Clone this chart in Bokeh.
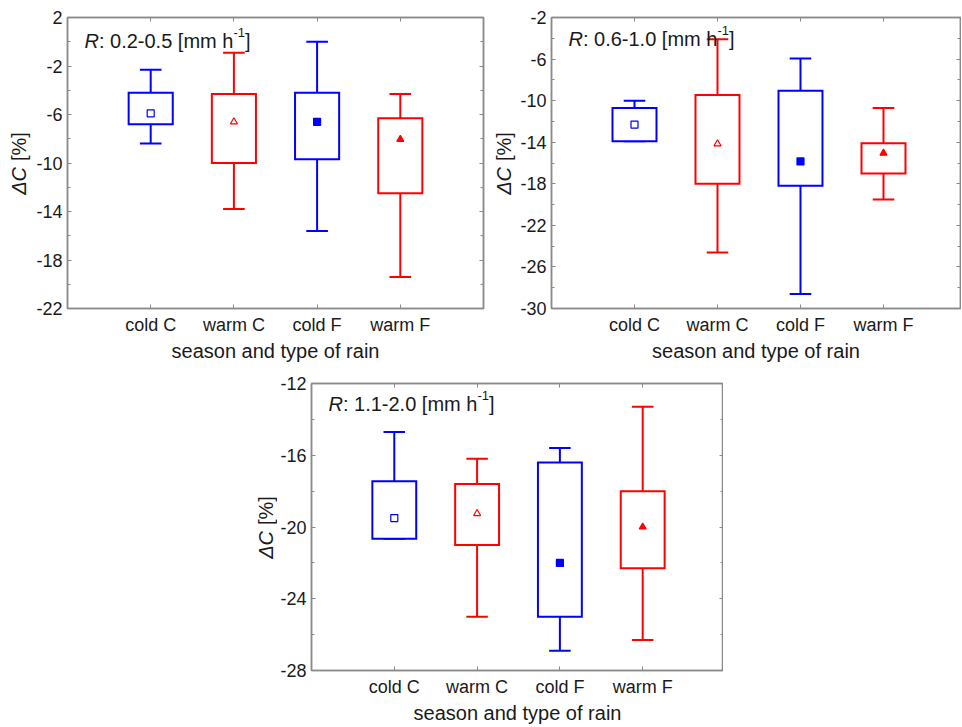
import numpy as np
from math import pi
from bokeh.plotting import figure
from bokeh.models import Range1d, FixedTicker, LinearAxis, Label, Spacer
from bokeh.layouts import row, column
from bokeh.embed import file_html
from bokeh.resources import INLINE

# ---------------- data ----------------
categories = ["cold C", "warm C", "cold F", "warm F"]

# panel 1: R 0.2-0.5 mm/h
p1_range = "0.2-0.5"
p1_lower = [-8.4, -13.8, -15.6, -19.4]
p1_q1 = [-6.8, -10.0, -9.7, -12.5]
p1_q3 = [-4.2, -4.3, -4.2, -6.3]
p1_upper = [-2.3, -0.9, 0.0, -4.3]
p1_mean = [-5.9, -6.6, -6.6, -8.05]
p1_yticks = [-22, -18, -14, -10, -6, -2, 2]
p1_yminor = [-20, -16, -12, -8, -4, 0]
p1_ylabels = ["-22", "-18", "-14", "-10", "-6", "-2", "2"]

# panel 2: R 0.6-1.0 mm/h
p2_range = "0.6-1.0"
p2_lower = [-13.9, -24.6, -28.6, -19.5]
p2_q1 = [-13.9, -18.0, -18.2, -17.0]
p2_q3 = [-10.7, -9.45, -9.05, -14.1]
p2_upper = [-10.0, -4.1, -5.95, -10.7]
p2_mean = [-12.3, -14.15, -15.85, -15.05]
p2_yticks = [-30, -26, -22, -18, -14, -10, -6, -2]
p2_yminor = [-28, -24, -20, -16, -12, -8, -4]
p2_ylabels = ["-30", "-26", "-22", "-18", "-14", "-10", "-6", "-2"]

# panel 3: R 1.1-2.0 mm/h
p3_range = "1.1-2.0"
p3_lower = [-20.65, -25.0, -26.9, -26.3]
p3_q1 = [-20.65, -21.0, -25.0, -22.3]
p3_q3 = [-17.45, -17.6, -16.4, -18.0]
p3_upper = [-14.7, -16.2, -15.6, -13.3]
p3_mean = [-19.5, -19.25, -22.0, -20.0]
p3_yticks = [-28, -24, -20, -16, -12]
p3_yminor = [-26, -22, -18, -14]
p3_ylabels = ["-28", "-24", "-20", "-16", "-12"]

x_axis_label = "season and type of rain"
y_label_var = "\u0394C"
y_label_unit = "[%]"

# ---------------- style ----------------
FONT = "Liberation Sans"
TXT = "#1a1a1a"
GRAY = "#8a8a8a"
BLUE = "#0000ff"
RED = "#ff0000"
cat_colors = [BLUE, RED, BLUE, RED]
cat_markers = ["square", "triangle", "square", "triangle"]
cat_fill = ["white", "white", BLUE, RED]
BOX_W = 0.53
CAP_W = 0.26
PX_PER_CAT = 83.2


def hidden_axis(ticks, minor):
    return LinearAxis(ticker=FixedTicker(ticks=ticks, minor_ticks=minor),
                      major_label_text_font_size="1px", major_label_text_color=None,
                      major_label_standoff=0,
                      axis_line_color=GRAY, axis_line_width=1.5,
                      major_tick_line_color=GRAY, minor_tick_line_color=GRAY,
                      major_tick_in=4, major_tick_out=0,
                      minor_tick_in=3, minor_tick_out=0)


def make_panel(lower, q1, q3, upper, mean, rng, yticks, yminor, ylabels,
               width, height, bl, br, bt, bb, frame_w, title_dy):
    xs = np.arange(1, len(categories) + 1, dtype=float)
    p = figure(width=width, height=height,
               x_range=Range1d(0, frame_w / PX_PER_CAT),
               y_range=Range1d(yticks[0], yticks[-1]),
               output_backend="svg", toolbar_location=None,
               min_border_left=bl, min_border_right=br,
               min_border_top=bt, min_border_bottom=bb)
    p.xgrid.visible = False
    p.ygrid.visible = False
    p.background_fill_color = "white"
    p.border_fill_color = "white"
    p.outline_line_color = GRAY
    p.outline_line_width = 1.5

    xa = p.xaxis[0]
    xa.ticker = FixedTicker(ticks=list(xs), minor_ticks=[])
    xa.major_label_overrides = {int(x): c for x, c in zip(xs, categories)}
    xa.axis_label = x_axis_label
    ya = p.yaxis[0]
    ya.ticker = FixedTicker(ticks=yticks, minor_ticks=yminor)
    ya.major_label_overrides = {t: l for t, l in zip(yticks, ylabels)}

    for ax in (xa, ya):
        ax.axis_line_color = GRAY
        ax.axis_line_width = 1.5
        ax.major_tick_line_color = GRAY
        ax.minor_tick_line_color = GRAY
        ax.major_tick_in = 4
        ax.major_tick_out = 0
        ax.minor_tick_in = 3
        ax.minor_tick_out = 0
        ax.major_label_text_font = FONT
        ax.major_label_text_font_size = "18px"
        ax.major_label_text_color = TXT
        ax.axis_label_text_font = FONT
        ax.axis_label_text_font_size = "20px"
        ax.axis_label_text_font_style = "normal"
        ax.axis_label_text_color = TXT
    xa.major_label_standoff = 6
    xa.axis_label_standoff = 2
    ya.major_label_standoff = 5

    p.add_layout(hidden_axis(list(xs), []), "above")
    p.add_layout(hidden_axis(yticks, yminor), "right")

    # whiskers
    p.segment(x0=xs, y0=q3, x1=xs, y1=upper, line_color=cat_colors, line_width=2)
    p.segment(x0=xs, y0=q1, x1=xs, y1=lower, line_color=cat_colors, line_width=2)
    p.segment(x0=xs - CAP_W / 2, y0=upper, x1=xs + CAP_W / 2, y1=upper,
              line_color=cat_colors, line_width=2)
    p.segment(x0=xs - CAP_W / 2, y0=lower, x1=xs + CAP_W / 2, y1=lower,
              line_color=cat_colors, line_width=2)
    # boxes
    p.vbar(x=xs, width=BOX_W, top=q3, bottom=q1, fill_color="white",
           line_color=cat_colors, line_width=2, line_join="miter")
    # means
    p.scatter(x=xs, y=mean, marker=cat_markers, size=7,
              line_color=cat_colors, fill_color=cat_fill, line_width=1.2)

    ytop = yticks[-1]
    x0 = 17
    lab_kw = dict(x=0, y=ytop, text_font=FONT, text_color=TXT,
                  text_baseline="alphabetic", text_align="left")
    p.add_layout(Label(x_offset=x0, y_offset=-title_dy, text="R",
                       text_font_style="italic", text_font_size="20px", **lab_kw))
    p.add_layout(Label(x_offset=x0 + 14.4, y_offset=-title_dy,
                       text=": " + rng + " [mm h", text_font_size="20px", **lab_kw))
    p.add_layout(Label(x_offset=x0 + 148.9, y_offset=-title_dy + 8,
                       text="-1", text_font_size="13px", **lab_kw))
    p.add_layout(Label(x_offset=x0 + 160.5, y_offset=-title_dy,
                       text="]", text_font_size="20px", **lab_kw))
    return p


def make_ylabel(yticks, width, height, bt, bb, cx):
    f = figure(width=width, height=height, x_range=Range1d(0, width),
               y_range=Range1d(yticks[0], yticks[-1]),
               x_axis_type=None, y_axis_type=None,
               output_backend="svg", toolbar_location=None,
               min_border_left=0, min_border_right=0,
               min_border_top=bt, min_border_bottom=bb)
    f.xgrid.visible = False
    f.ygrid.visible = False
    f.outline_line_color = None
    f.background_fill_color = "white"
    f.border_fill_color = "white"
    ymid = (yticks[0] + yticks[-1]) / 2
    f.add_layout(Label(x=cx, y=ymid, y_offset=-4, angle=pi / 2,
                       text=y_label_var, text_font=FONT, text_font_style="italic",
                       text_font_size="20px", text_color=TXT,
                       text_align="right", text_baseline="middle"))
    f.add_layout(Label(x=cx, y=ymid, y_offset=2, angle=pi / 2,
                       text=y_label_unit, text_font=FONT, text_font_size="20px",
                       text_color=TXT, text_align="left", text_baseline="middle"))
    return f


H1 = 368
H3 = 358
# top row
lf1 = make_ylabel(p1_yticks, 32, H1, 17, 60, 18)
p1 = make_panel(p1_lower, p1_q1, p1_q3, p1_upper, p1_mean, p1_range,
                p1_yticks, p1_yminor, p1_ylabels,
                width=461, height=H1, bl=35, br=10, bt=17, bb=60,
                frame_w=416, title_dy=23)
lf2 = make_ylabel(p2_yticks, 24, H1, 17, 60, 10)
p2 = make_panel(p2_lower, p2_q1, p2_q3, p2_upper, p2_mean, p2_range,
                p2_yticks, p2_yminor, p2_ylabels,
                width=444, height=H1, bl=33, br=1, bt=17, bb=60,
                frame_w=410, title_dy=21)
# bottom row
lf3 = make_ylabel(p3_yticks, 22, H3, 15, 54, 10)
p3 = make_panel(p3_lower, p3_q1, p3_q3, p3_upper, p3_mean, p3_range,
                p3_yticks, p3_yminor, p3_ylabels,
                width=446, height=H3, bl=32, br=0, bt=15, bb=54,
                frame_w=414, title_dy=20)

layout = column(row(lf1, p1, lf2, p2),
                row(Spacer(width=255, height=H3), lf3, p3))

open("out.html", "w").write(file_html(layout, INLINE))
